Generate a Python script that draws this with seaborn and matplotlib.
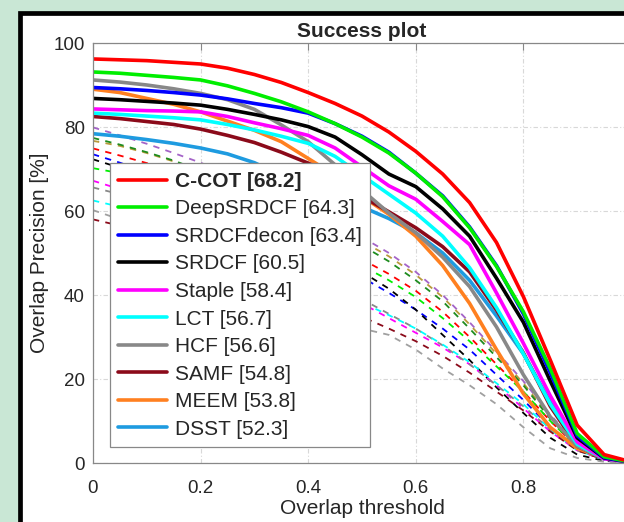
import numpy as np
import pandas as pd
import matplotlib
matplotlib.use("Agg")
import matplotlib.pyplot as plt
from matplotlib.patches import Rectangle
import seaborn as sns

# overlap thresholds (x axis)
thresholds = [0.00, 0.05, 0.10, 0.15, 0.20, 0.25, 0.30, 0.35, 0.40, 0.45, 0.50,
              0.55, 0.60, 0.65, 0.70, 0.75, 0.80, 0.85, 0.90, 0.95, 1.00]

# trackers shown in the legend (name, AUC score)
trackers = ['C-COT', 'DeepSRDCF', 'SRDCFdecon', 'SRDCF', 'Staple',
            'LCT', 'HCF', 'SAMF', 'MEEM', 'DSST']
scores = [68.2, 64.3, 63.4, 60.5, 58.4, 56.7, 56.6, 54.8, 53.8, 52.3]
colors = ['#ff0000', '#00ee00', '#0000ff', '#000000', '#ff00ff',
          '#00ffff', '#888888', '#8b0a1a', '#ff8020', '#1e9be0']

ccot = [96.2, 96.0, 95.8, 95.4, 95.0, 94.0, 92.5, 90.6, 88.2, 85.6, 82.6,
        78.8, 74.2, 68.8, 62.0, 52.5, 39.6, 24.5, 9.0, 2.0, 0.3]
deepsrdcf = [93.1, 92.8, 92.3, 91.8, 91.2, 89.8, 88.0, 86.0, 83.6, 80.8, 77.6,
             73.8, 69.0, 63.4, 56.0, 46.8, 36.0, 22.5, 7.0, 1.5, 0.2]
srdcfdecon = [89.4, 89.1, 88.7, 88.2, 87.6, 86.7, 85.6, 84.6, 83.3, 80.8, 77.8,
              74.0, 69.0, 63.6, 56.2, 47.0, 35.5, 21.5, 6.5, 1.3, 0.2]
srdcf = [86.8, 86.5, 86.1, 85.7, 85.2, 84.2, 83.0, 81.7, 80.1, 77.6, 73.4,
         68.8, 65.8, 60.5, 54.0, 44.0, 33.5, 19.5, 6.0, 1.2, 0.2]
staple = [84.3, 84.1, 83.9, 83.8, 83.6, 82.5, 81.0, 79.6, 78.0, 75.0, 70.5,
          66.0, 62.8, 57.5, 52.0, 40.5, 28.5, 16.0, 5.0, 1.0, 0.2]
lct = [83.3, 83.0, 82.6, 82.2, 81.7, 80.6, 79.3, 77.8, 76.1, 73.0, 68.5,
       64.0, 59.5, 54.0, 46.5, 37.0, 26.0, 14.0, 4.5, 1.0, 0.2]
hcf = [91.2, 90.7, 90.0, 89.1, 88.0, 86.5, 84.2, 80.5, 76.5, 71.0, 65.0,
       59.5, 54.8, 49.0, 42.0, 32.4, 21.0, 11.0, 4.0, 1.0, 0.2]
samf = [82.5, 82.0, 81.3, 80.6, 79.5, 78.0, 76.3, 74.0, 71.4, 68.5, 63.5,
        59.8, 56.0, 51.5, 45.5, 36.4, 26.2, 13.5, 4.0, 1.0, 0.2]
meem = [89.0, 88.2, 86.8, 85.4, 83.6, 81.4, 79.2, 76.5, 72.5, 68.5, 63.5,
        59.2, 54.0, 47.0, 38.0, 27.0, 16.5, 8.5, 3.5, 1.2, 0.3]
dsst = [78.4, 77.8, 77.0, 76.1, 75.0, 73.6, 71.5, 68.5, 65.8, 63.5, 61.0,
        58.2, 54.8, 50.0, 43.5, 35.0, 26.0, 14.5, 5.0, 1.2, 0.2]
solid_curves = [ccot, deepsrdcf, srdcfdecon, srdcf, staple,
                lct, hcf, samf, meem, dsst]

# remaining trackers, drawn dashed and left out of the legend
other_colors = ['#a463c8', '#b89a3a', '#1e8c1e', '#ff0000', '#0000ff', '#000000',
                '#00ee00', '#ff00ff', '#888888', '#00ffff', '#8b0a1a', '#a0a0a0']
other_curves = [
    [79.9, 78.0, 76.0, 73.8, 71.5, 68.8, 66.0, 63.0, 59.8, 56.5, 53.8,
     50.0, 45.5, 40.0, 33.5, 26.5, 19.5, 11.5, 4.5, 1.2, 0.2],
    [76.7, 75.5, 73.8, 71.8, 69.5, 67.0, 64.2, 61.2, 58.2, 55.4, 52.8,
     49.2, 44.8, 39.5, 33.0, 26.0, 19.0, 11.0, 4.2, 1.1, 0.2],
    [77.4, 75.8, 74.0, 72.0, 69.6, 67.0, 64.0, 61.0, 57.8, 54.8, 51.8,
     48.0, 43.5, 38.5, 32.0, 25.2, 18.5, 10.5, 4.0, 1.0, 0.2],
    [74.9, 73.2, 71.4, 69.2, 66.8, 64.2, 61.3, 58.2, 55.0, 51.6, 48.5,
     45.0, 41.0, 36.0, 30.0, 23.5, 17.0, 10.0, 3.8, 1.0, 0.2],
    [73.5, 71.5, 69.2, 66.8, 64.2, 61.5, 58.5, 55.2, 52.0, 48.0, 44.2,
     40.5, 36.5, 32.0, 27.0, 21.0, 15.0, 8.5, 3.2, 0.8, 0.2],
    [72.3, 70.3, 68.0, 65.6, 63.0, 60.2, 57.3, 54.2, 51.0, 48.2, 45.5,
     41.5, 36.5, 30.5, 24.5, 18.0, 11.9, 6.0, 2.0, 0.5, 0.1],
    [70.2, 69.0, 67.5, 65.8, 63.8, 61.5, 58.8, 55.8, 52.5, 49.5, 47.0,
     43.5, 39.5, 34.5, 29.0, 23.0, 17.0, 10.0, 3.8, 1.0, 0.2],
    [67.2, 65.2, 63.0, 60.6, 58.0, 55.2, 52.2, 49.0, 45.5, 41.8, 38.0,
     34.5, 31.0, 27.5, 23.5, 18.5, 13.0, 7.5, 3.0, 0.8, 0.1],
    [65.6, 64.0, 62.0, 59.8, 57.4, 54.8, 52.0, 49.0, 45.8, 42.5, 39.0,
     35.5, 32.0, 28.0, 23.5, 18.5, 13.5, 8.0, 3.0, 0.8, 0.1],
    [62.5, 61.0, 59.2, 57.2, 55.0, 52.6, 50.0, 47.2, 44.2, 41.2, 38.2,
     35.2, 32.0, 28.2, 24.0, 19.0, 14.0, 8.0, 3.0, 0.8, 0.1],
    [58.0, 56.5, 54.6, 52.5, 50.2, 47.8, 45.2, 42.5, 39.7, 37.0, 34.8,
     32.0, 29.0, 25.5, 21.5, 17.0, 12.5, 7.5, 3.0, 0.8, 0.1],
    [60.2, 58.0, 55.5, 52.8, 50.0, 47.0, 44.0, 40.8, 37.5, 34.5, 32.0,
     30.5, 27.0, 22.5, 18.5, 14.0, 8.5, 3.5, 1.2, 0.3, 0.1],
]

sns.set_style("white")
plt.rcParams['font.family'] = ['Liberation Sans', 'DejaVu Sans']

fig = plt.figure(figsize=(6.24, 5.22), dpi=100)
fig.patch.set_facecolor('#c9e7d5')

# slide frame around the plot (cropped on the right and bottom)
frame = Rectangle((19.5 / 624, -0.2), 1.3, 0.975 + 0.2, transform=fig.transFigure,
                  facecolor='white', edgecolor='black', linewidth=3.4, zorder=-10)
fig.patches.append(frame)

ax = fig.add_axes([93 / 624, 59 / 522, 538 / 624, 420 / 522])
ax.set_zorder(1)
ax.set_facecolor('white')

for vals, col in zip(other_curves, other_colors):
    sns.lineplot(x=thresholds, y=vals, color=col, linewidth=1.3,
                 linestyle=(0, (3.5, 3.5)), ax=ax)

for name, score, vals, col in reversed(list(zip(trackers, scores, solid_curves, colors))):
    sns.lineplot(x=thresholds, y=vals, color=col, linewidth=2.6,
                 label=f'{name} [{score}]', ax=ax)

ax.set_xlim(0, 1)
ax.set_ylim(0, 100)
ax.set_xticks([0, 0.2, 0.4, 0.6, 0.8])
ax.set_xticklabels(['0', '0.2', '0.4', '0.6', '0.8'])
ax.set_yticks([0, 20, 40, 60, 80, 100])
ax.grid(True, color='#d8d8d8', linestyle=(0, (4, 2, 1, 2)), linewidth=0.8)
ax.tick_params(direction='in', top=True, length=5, width=0.8, color='#888888',
               labelsize=13.5, labelcolor='#262626')
ax.tick_params(axis='y', pad=6)
ax.tick_params(axis='x', pad=12)
for side in ax.spines.values():
    side.set_color('#888888')
    side.set_linewidth(0.9)

ax.set_title('Success plot', fontsize=15, fontweight='bold', pad=4)
ax.set_xlabel('Overlap threshold', fontsize=15, color='#262626', labelpad=1.5)
ax.set_ylabel('Overlap Precision [%]', fontsize=15, color='#262626', labelpad=3)

handles, labels = ax.get_legend_handles_labels()
leg = ax.legend(handles[::-1], labels[::-1], loc='lower left',
                bbox_to_anchor=(0.0316, 0.038), borderaxespad=0,
                fontsize=15, frameon=True, fancybox=False, framealpha=1,
                edgecolor='#888888', handlelength=2.35, handletextpad=0.35,
                labelspacing=0.41, borderpad=0.4)
leg.get_frame().set_linewidth(0.9)
for line in leg.get_lines():
    line.set_linewidth(2.6)
leg.get_texts()[0].set_fontweight('bold')

fig.savefig('out.png', dpi=100, facecolor=fig.get_facecolor())
